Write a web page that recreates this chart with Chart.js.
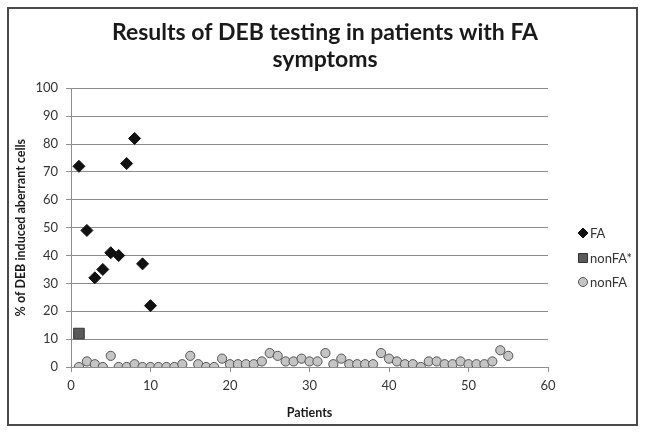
<!DOCTYPE html>
<html>
<head>
<meta charset="utf-8">
<script src="https://cdn.jsdelivr.net/npm/chart.js@4/dist/chart.umd.min.js"></script>
<style>
  html, body { margin: 0; padding: 0; background: #fff; }
  #wrap { width: 646px; height: 435px; }
</style>
</head>
<body>
<div id="wrap"><canvas id="debChart" width="646" height="435"></canvas></div>
<script>
// values
const faPatients = [1, 2, 3, 4, 5, 6, 7, 8, 9, 10]
const faValues = [72, 49, 32, 35, 41, 40, 73, 82, 37, 22]
const nonFaStarPatients = [1]
const nonFaStarValues = [12]
const nonFaValues = [0, 2, 1, 0, 4, 0, 0, 1, 0, 0, 0, 0, 0, 1, 4, 1, 0, 0, 3, 1,
    1, 1, 1, 2, 5, 4, 2, 2, 3, 2, 2, 5, 1, 3, 1, 1, 1, 1, 5, 3,
    2, 1, 1, 0, 2, 2, 1, 1, 2, 1, 1, 1, 2, 6, 4]
const xTicks = [0, 10, 20, 30, 40, 50, 60]
const yTicks = [0, 10, 20, 30, 40, 50, 60, 70, 80, 90, 100]

const toPoints = (xs, ys) => ys.map((y, i) => ({ x: xs[i], y: y }))

const fontName = 'Lato, "Open Sans", sans-serif'
const gridColor = '#8c8c8c'
const textColor = '#333333'

// outer frame + legend drawn at the right
const framePlugin = {
    id: 'frame',
    beforeDraw(chart) {
        const ctx = chart.ctx
        ctx.save()
        ctx.fillStyle = '#ffffff'
        ctx.fillRect(0, 0, chart.width, chart.height)
        ctx.strokeStyle = '#4a4a4a'
        ctx.lineWidth = 2
        ctx.strokeRect(8, 8, 629, 417)
        ctx.restore()
    },
    afterDraw(chart) {
        const ctx = chart.ctx
        const ys = [233, 258, 282]
        ctx.save()
        ctx.font = '13px ' + fontName
        ctx.textBaseline = 'middle'
        ctx.textAlign = 'left'
        chart.data.datasets.forEach((ds, i) => {
            const x = 583
            const y = ys[i]
            ctx.fillStyle = ds.backgroundColor
            ctx.strokeStyle = ds.borderColor
            ctx.lineWidth = 1
            ctx.beginPath()
            if (ds.pointStyle === 'rectRot') {
                ctx.moveTo(x, y - 5)
                ctx.lineTo(x + 5, y)
                ctx.lineTo(x, y + 5)
                ctx.lineTo(x - 5, y)
                ctx.closePath()
            } else if (ds.pointStyle === 'rect') {
                ctx.rect(x - 4.5, y - 4.5, 9, 9)
            } else {
                ctx.arc(x, y, 4.5, 0, Math.PI * 2)
            }
            ctx.fill()
            ctx.stroke()
            ctx.fillStyle = textColor
            ctx.fillText(ds.label, x + 7, y + 1)
        })
        ctx.restore()
    }
}

new Chart(document.getElementById('debChart'), {
    type: 'scatter',
    data: {
        datasets: [{
            label: 'FA',
            data: toPoints(faPatients, faValues),
            pointStyle: 'rectRot',
            pointRadius: 6,
            pointHoverRadius: 6,
            backgroundColor: '#111111',
            borderColor: '#111111',
            borderWidth: 1
        }, {
            label: 'nonFA*',
            data: toPoints(nonFaStarPatients, nonFaStarValues),
            pointStyle: 'rect',
            pointRadius: 7.5,
            pointHoverRadius: 7.5,
            backgroundColor: '#5a5a5a',
            borderColor: '#333333',
            borderWidth: 1
        }, {
            label: 'nonFA',
            data: toPoints(nonFaValues.map((v, i) => i + 1), nonFaValues),
            pointStyle: 'circle',
            pointRadius: 4.6,
            pointHoverRadius: 4.6,
            backgroundColor: '#c4c4c4',
            borderColor: '#555555',
            borderWidth: 1
        }]
    },
    options: {
        responsive: false,
        animation: false,
        layout: { padding: { left: 12, right: 8, top: 0, bottom: 12 } },
        plugins: {
            legend: { display: false },
            tooltip: { enabled: false },
            title: {
                display: true,
                text: ['Results of DEB testing in patients with FA', 'symptoms'],
                color: '#1a1a1a',
                font: { family: fontName, size: 23, weight: 'bold', lineHeight: 1.18 },
                padding: { top: 19, bottom: 15 }
            }
        },
        scales: {
            x: {
                type: 'linear',
                min: 0,
                max: 60,
                afterBuildTicks: (scale) => { scale.ticks = xTicks.map(v => ({ value: v })) },
                afterFit: (scale) => { scale.height = 56 },
                grid: { drawOnChartArea: false, drawTicks: true, tickLength: 5, color: gridColor },
                border: { color: gridColor },
                ticks: { color: textColor, padding: 6, maxRotation: 0, font: { family: fontName, size: 13 } },
                title: {
                    display: true,
                    text: 'Patients',
                    color: '#1a1a1a',
                    padding: { top: 0, bottom: 3 },
                    font: { family: fontName, size: 12.5, weight: 'bold' }
                }
            },
            y: {
                min: 0,
                max: 100,
                afterBuildTicks: (scale) => { scale.ticks = yTicks.map(v => ({ value: v })) },
                afterFit: (scale) => { scale.width = 59 },
                grid: { drawTicks: true, tickLength: 5, color: gridColor },
                border: { color: gridColor },
                ticks: { color: textColor, padding: 8, font: { family: fontName, size: 13 } },
                title: {
                    display: true,
                    text: '% of DEB induced aberrant cells',
                    color: '#1a1a1a',
                    padding: { top: 1, bottom: 0 },
                    font: { family: fontName, size: 12.5, weight: 'bold' }
                }
            },
            // empty right-hand axis that only reserves room for the legend
            legendSpace: {
                type: 'linear',
                position: 'right',
                display: true,
                afterFit: (scale) => { scale.width = 90 },
                grid: { display: false, drawTicks: false },
                border: { display: false },
                ticks: { display: false }
            }
        }
    },
    plugins: [framePlugin]
})
</script>
</body>
</html>
